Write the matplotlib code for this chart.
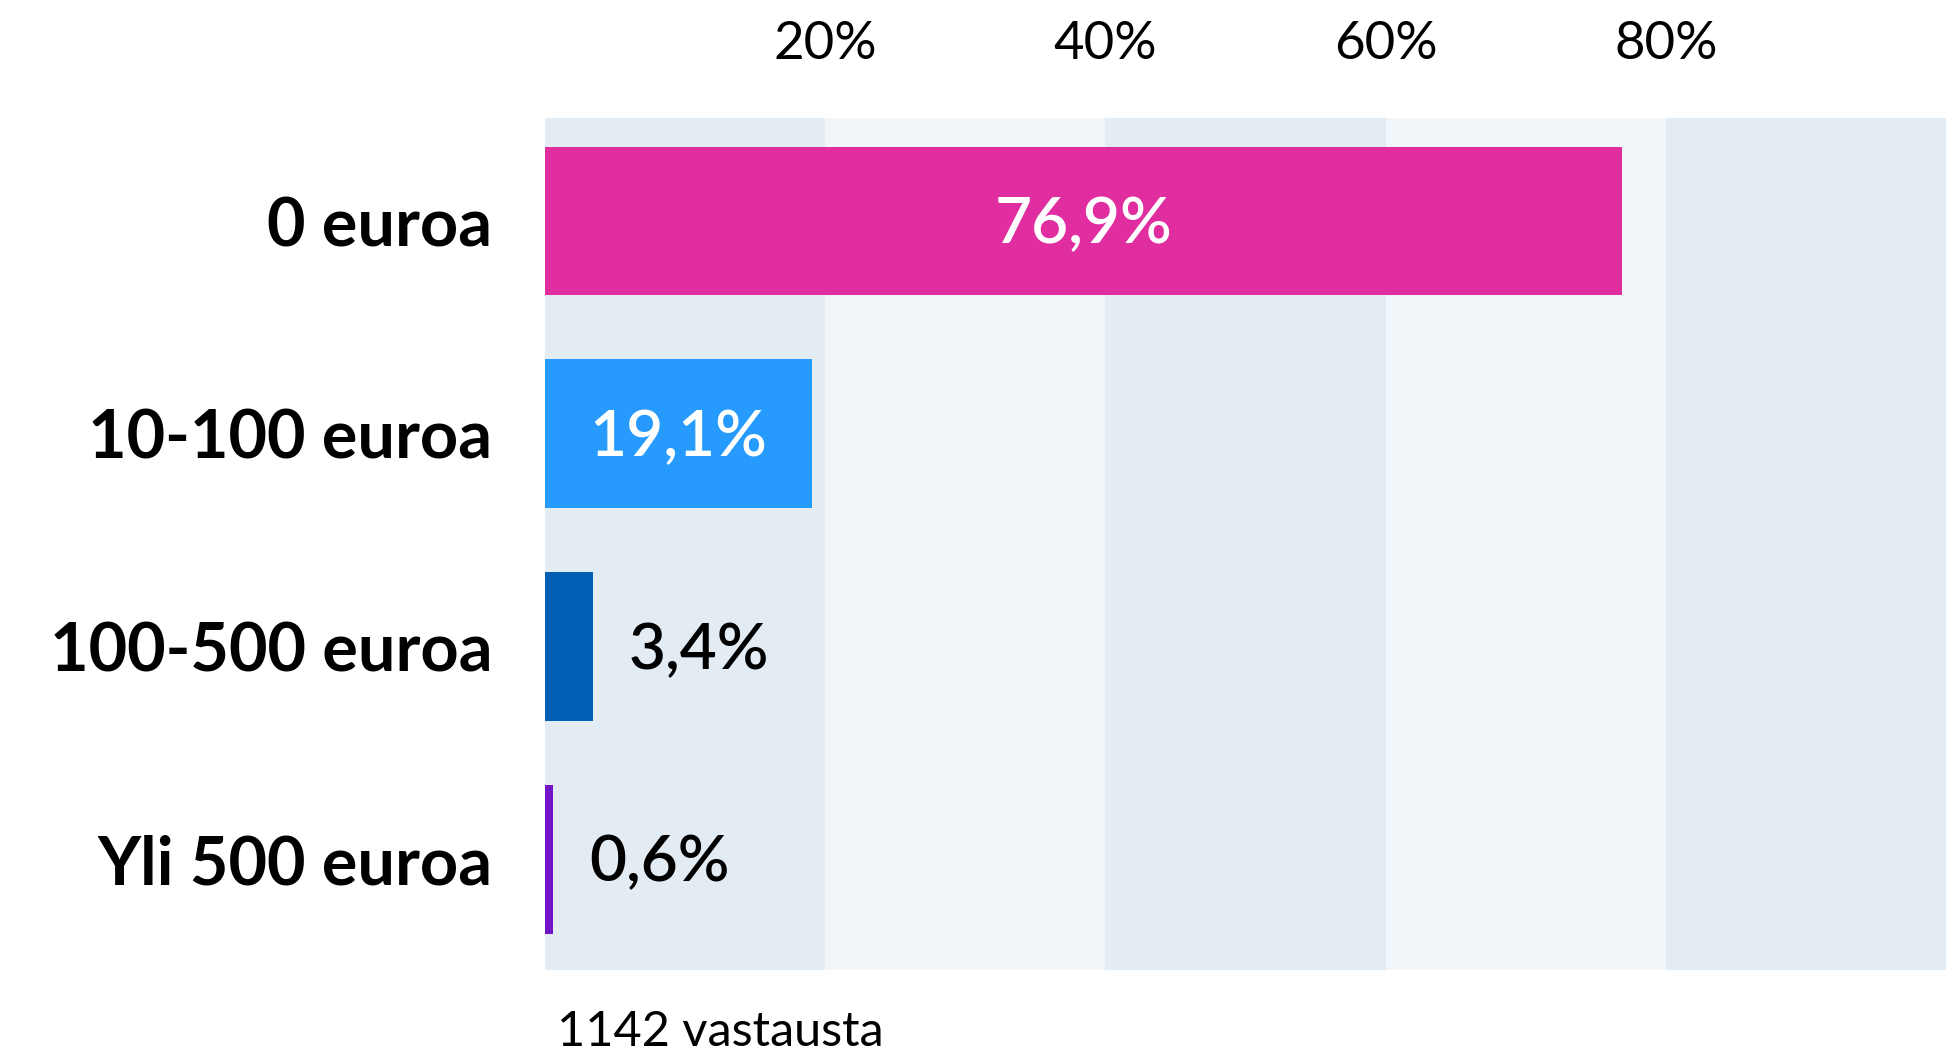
import matplotlib.pyplot as plt

categories = ["0 euroa", "10-100 euroa", "100-500 euroa", "Yli 500 euroa"]
values = [76.9, 19.1, 3.4, 0.6]
bar_colors = ["#e02da0", "#279bfd", "#005eb5", "#7414c8"]
tick_values = [20, 40, 60, 80]
tick_labels = ["20%", "40%", "60%", "80%"]
note = "1142 vastausta"

plt.rcParams['font.family'] = ['Lato', 'DejaVu Sans']

fig = plt.figure(figsize=(19.46, 10.55), dpi=100)
ax = fig.add_axes([0.280, 0.0806, 0.720, 0.8075])

# striped background, 20 % wide bands
for i, x0 in enumerate(range(0, 100, 20)):
    ax.axvspan(x0, x0 + 20, color="#e3ebf3" if i % 2 == 0 else "#f1f6fb", zorder=0, lw=0)

ypos = list(range(len(categories)))
ax.barh(ypos, values, height=0.70, color=bar_colors, zorder=2)

for y, v in zip(ypos, values):
    txt = f"{v:.1f}%".replace(".", ",")
    if v >= 10:
        ax.text(v / 2, y + 0.02, txt, color="white", fontsize=46, fontweight="semibold",
                ha="center", va="center", zorder=3)
    else:
        ax.annotate(txt, (v, y + 0.02), xytext=(26, 0), textcoords="offset points",
                    color="black", fontsize=46, fontweight="semibold",
                    ha="left", va="center", zorder=3)

ax.set_xlim(0, 100)
ax.set_ylim(3.521, -0.484)
ax.set_yticks(ypos)
ax.set_yticklabels(categories, fontsize=48, fontweight="bold")
ax.tick_params(axis="y", length=0, pad=38)
ax.xaxis.tick_top()
ax.set_xticks(tick_values)
ax.set_xticklabels(tick_labels, fontsize=38, fontweight="normal")
ax.tick_params(axis="x", length=0, pad=36)
for s in ax.spines.values():
    s.set_visible(False)

fig.text(557 / 1946, 1 - 1032 / 1055, note, fontsize=35, fontweight="normal",
         ha="left", va="center")

fig.savefig("out.png", dpi=100, facecolor="white")
